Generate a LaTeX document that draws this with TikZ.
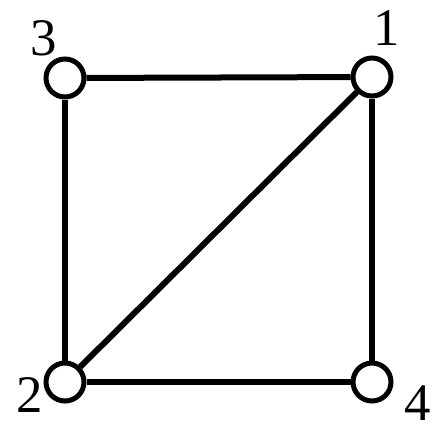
\documentclass[tikz,border=0pt]{standalone}
\usepackage{fontspec}
\setmainfont{Liberation Serif}
\usepackage{tikz}

\begin{document}
\begin{tikzpicture}[x=1bp,y=-1bp,
    vertex/.style={circle,draw,fill=white,inner sep=0pt,minimum size=38bp,line width=5bp},
    num/.style={inner sep=0pt,font=\fontsize{53}{60}\selectfont},
    edge/.style={line width=6bp}]
    \useasboundingbox (0,0) rectangle (442,432);
    \node[vertex] (v1) at (372,77) {};
    \node[vertex] (v2) at (65,382) {};
    \node[vertex] (v3) at (65,78) {};
    \node[vertex] (v4) at (372,382) {};
    \node[num] (n1) at (387,28) {1};
    \node[num] (n2) at (30,395) {2};
    \node[num] (n3) at (44,38) {3};
    \node[num] (n4) at (418,403) {4};
    \draw[edge] (v3) -- (v1);
    \draw[edge] (v3) -- (v2);
    \draw[edge] (v2) -- (v4);
    \draw[edge] (v1) -- (v4);
    \draw[edge] (v2) -- (v1);
  \end{tikzpicture}
\end{document}
